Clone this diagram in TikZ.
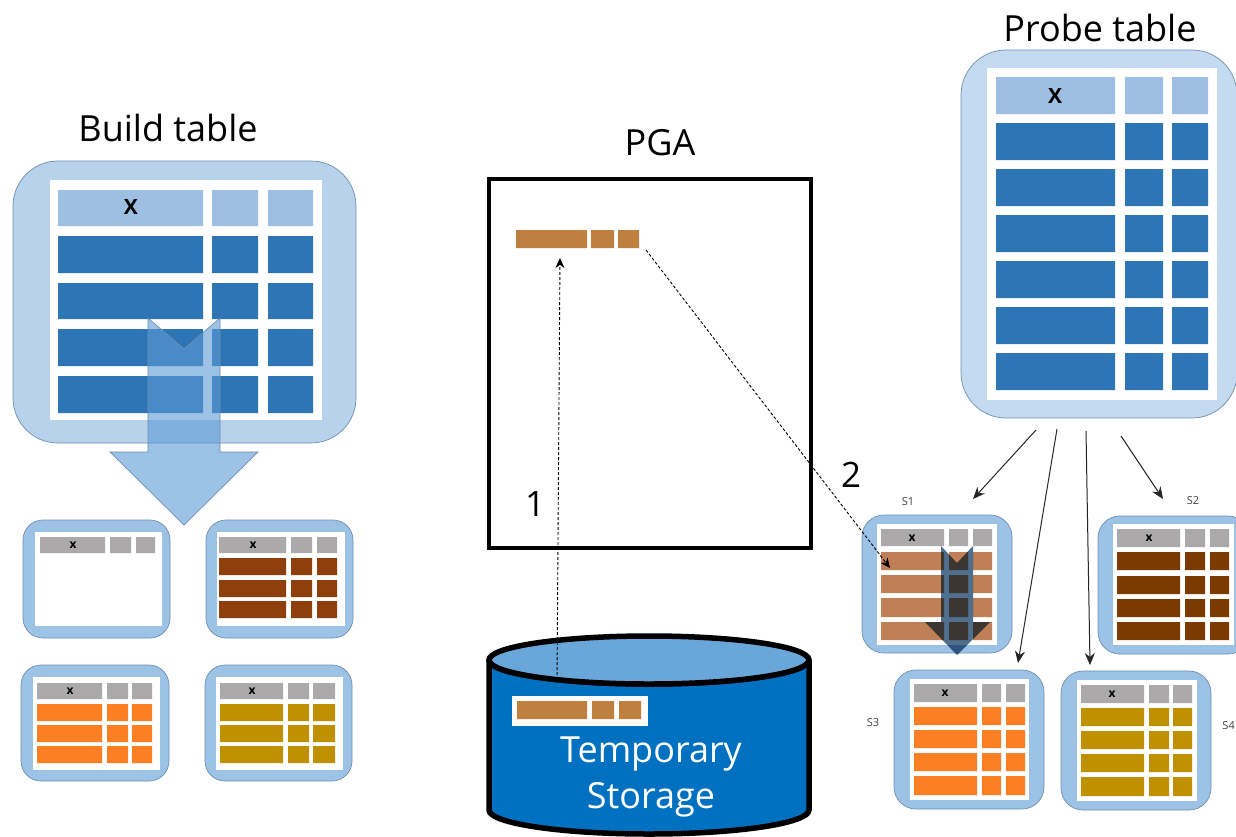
\documentclass[tikz,border=0pt]{standalone}
\usepackage{fontspec}
\setmainfont{Open Sans}
\usetikzlibrary{arrows.meta}
\definecolor{bluerow}{HTML}{2E75B6}
\definecolor{bluehead}{HTML}{9DC0E2}
\definecolor{greyhead}{HTML}{ABA9A9}
\definecolor{shellbig}{HTML}{B8D2EC}
\definecolor{shellprobe}{HTML}{C4DAF0}
\definecolor{shellsmall}{HTML}{9CC2E6}
\definecolor{shellline}{HTML}{6F8FAF}
\definecolor{arrowfill}{HTML}{5B9BD5}
\definecolor{darkarrow}{HTML}{4F6F8F}
\definecolor{sone}{HTML}{BF7F57}
\definecolor{stwo}{HTML}{7B3B00}
\definecolor{btwo}{HTML}{8F3F0C}
\definecolor{orangerow}{HTML}{FC7F24}
\definecolor{olive}{HTML}{BF9000}
\definecolor{tan}{HTML}{BF7F3F}
\definecolor{cyl}{HTML}{0070C0}
\definecolor{cyltop}{HTML}{69A6DA}
\newcommand\tblshell[7]{% name x1 y1 x2 y2 radius colour
  \node[shell,rounded corners=#6pt,fill=#7,minimum width={(#4-#2)*1pt},minimum height={(#5-#3)*1pt}] (#1) at ({(#2+#4)/2},{(#3+#5)/2}) {};}
\newcommand\whitepane[4]{\fill[white] (#1,#2) rectangle (#3,#4);}
\newcommand\cellrow[9]{% c1 c2 c3 c4 c5 c6 y1 y2 colour
  \fill[#9] (#1,#7) rectangle (#2,#8) (#3,#7) rectangle (#4,#8) (#5,#7) rectangle (#6,#8);}
\tikzset{
  shell/.style={draw=shellline,line width=.7pt,inner sep=0pt,outer sep=0pt,rectangle},
  title/.style={inner sep=0pt,font=\fontsize{36}{40}\selectfont},
  xbig/.style={inner sep=0pt,font=\fontsize{21}{22}\selectfont\bfseries},
  xsmall/.style={inner sep=0pt,font=\fontsize{12}{13}\selectfont\bfseries},
  tiny label/.style={inner sep=0pt,text=black!75,font=\fontsize{11}{12}\selectfont},
  num/.style={inner sep=0pt,font=\fontsize{35}{38}\selectfont},
  split/.style={-{Stealth[length=12pt,width=10pt]},line width=1pt,black!85},
  flow/.style={-{Stealth[length=10pt,width=9pt]},densely dashed,line width=.9pt,black},
}
\begin{document}
\begin{tikzpicture}[x=1pt,y=-1pt]
\clip (0,0) rectangle (1236,836);
\fill[white] (0,0) rectangle (1236,836);
% Build table
\node[title] (buildlabel) at (168,128) {Build table};
\tblshell{build}{13}{161}{356}{443}{45}{shellbig}
\whitepane{50}{180}{322}{420}
\cellrow{58}{203}{212}{258}{268}{313}{190}{226}{bluehead}
\foreach \a/\b in {236/273,283/319,329/366,376/413}{\cellrow{58}{203}{212}{258}{268}{313}{\a}{\b}{bluerow}}
\node[xbig] (buildx) at (131,207) {X};
\draw[fill=arrowfill,fill opacity=.6,draw=shellline,line width=.7pt]
  (148,318) -- (184,349) -- (220,318) -- (220,452) -- (258,452) -- (184,525) -- (110,452) -- (148,452) -- cycle;
% Small left tables
\tblshell{ba}{23}{520}{170}{638}{20}{shellsmall}
\whitepane{35}{532}{162}{626}
\cellrow{40}{105}{110}{131}{136}{155}{537}{553}{greyhead}
\node[xsmall] (bax) at (73,545) {x};
\tblshell{bb}{206}{520}{353}{638}{20}{shellsmall}
\whitepane{217}{532}{345}{626}
\cellrow{219}{286}{291}{312}{317}{337}{537}{553}{greyhead}
\node[xsmall] (bbx) at (253,545) {x};
\foreach \a/\b in {558/575,580/597,601/618}{\cellrow{219}{286}{291}{312}{317}{337}{\a}{\b}{btwo}}
\tblshell{bc}{21}{665}{169}{781}{20}{shellsmall}
\whitepane{33}{677}{160}{770}
\cellrow{37}{102}{107}{128}{132}{152}{683}{699}{greyhead}
\node[xsmall] (bcx) at (70,691) {x};
\foreach \a/\b in {704/721,725/742,746/763}{\cellrow{37}{102}{107}{128}{132}{152}{\a}{\b}{orangerow}}
\tblshell{bd}{205}{665}{352}{781}{20}{shellsmall}
\whitepane{216}{677}{343}{770}
\cellrow{220}{283}{288}{309}{313}{335}{683}{699}{greyhead}
\node[xsmall] (bdx) at (252,691) {x};
\foreach \a/\b in {704/721,725/742,746/763}{\cellrow{220}{283}{288}{309}{313}{335}{\a}{\b}{olive}}
% PGA
\node[title] (pgalabel) at (660,143) {PGA};
\node[draw=black,line width=3.2pt,rectangle,minimum width=322pt,minimum height=369pt,inner sep=0pt] (pga) at (650,363.5) {};
\cellrow{516}{587}{591}{614}{618}{639}{230}{248}{tan}
\coordinate (pgarowend) at (646,250);
\coordinate (pgarowin) at (560,258);
\node[num] (one) at (535,504) {1};
\node[num] (two) at (851,475) {2};
% Cylinder
\path[fill=cyl,draw=black,line width=5.5pt,line join=round] (489,660) -- (489,810) arc[start angle=180,end angle=360,x radius=160,y radius=-24] -- (809,660) arc[start angle=0,end angle=-180,x radius=160,y radius=-24] -- cycle;
\draw[fill=cyltop,line width=5.5pt] (649,660) ellipse[x radius=160,y radius=24];
\fill[white] (512,696) rectangle (648,726);
\cellrow{517}{587}{592}{614}{619}{641}{701}{719}{tan}
\coordinate (cylrow) at (557,680);
\node[inner sep=0pt,text=white,align=center,font=\fontsize{36}{46}\selectfont] (storage) at (651,777) {Temporary\\Storage};
% Probe table
\node[title] (probelabel) at (1100,28) {Probe table};
\tblshell{probe}{961}{50}{1237}{418}{45}{shellprobe}
\whitepane{987}{68}{1217}{400}
\cellrow{996}{1115}{1125}{1163}{1172}{1208}{77}{114}{bluehead}
\foreach \a/\b in {123/160,169/206,215/252,261/298,307/344,353/390}{\cellrow{996}{1115}{1125}{1163}{1172}{1208}{\a}{\b}{bluerow}}
\node[xbig] (probex) at (1055,96) {X};
% S tables
\tblshell{sa}{862}{515}{1012}{653}{22}{shellsmall}
\whitepane{877}{524}{997}{645}
\cellrow{881}{944}{949}{968}{973}{992}{529}{546}{greyhead}
\node[xsmall] (sax) at (912,538) {x};
\foreach \a/\b in {552/570,575/593,598/617,622/640}{\cellrow{881}{944}{949}{968}{973}{992}{\a}{\b}{sone}}
\tblshell{sb}{1098}{516}{1250}{654}{22}{shellsmall}
\whitepane{1113}{524}{1234}{645}
\cellrow{1117}{1180}{1185}{1205}{1210}{1229}{529}{547}{greyhead}
\node[xsmall] (sbx) at (1149,538) {x};
\foreach \a/\b in {552/570,576/594,599/617,622/640}{\cellrow{1117}{1180}{1185}{1205}{1210}{1229}{\a}{\b}{stwo}}
\tblshell{sc}{894}{670}{1044}{809}{22}{shellsmall}
\whitepane{910}{679}{1029}{800}
\cellrow{914}{977}{982}{1001}{1006}{1025}{684}{702}{greyhead}
\node[xsmall] (scx) at (945,693) {x};
\foreach \a/\b in {707/725,730/748,753/771,776/795}{\cellrow{914}{977}{982}{1001}{1006}{1025}{\a}{\b}{orangerow}}
\tblshell{sd}{1061}{671}{1211}{810}{22}{shellsmall}
\whitepane{1077}{680}{1197}{801}
\cellrow{1081}{1144}{1149}{1169}{1173}{1192}{685}{703}{greyhead}
\node[xsmall] (sdx) at (1112,694) {x};
\foreach \a/\b in {708/726,731/749,754/772,777/796}{\cellrow{1081}{1144}{1149}{1169}{1173}{1192}{\a}{\b}{olive}}
\node[tiny label] (sal) at (908,502) {S1};
\node[tiny label] (sbl) at (1193,501) {S2};
\node[tiny label] (scl) at (873,723) {S3};
\node[tiny label,anchor=east] (sdl) at (1235,726) {S4};
% S1 arrow
\begin{scope}[blend mode=multiply]
\fill[darkarrow]
  (941,546) -- (957,563) -- (973,546) -- (973,622) -- (990,622) -- (957,655) -- (925,622) -- (941,622) -- cycle;
\end{scope}
% connectors
\coordinate (pa) at (1036,430);
\coordinate (pb) at (1057,429);
\coordinate (pc) at (1086,431);
\coordinate (pd) at (1121,436);
\coordinate (ea) at (973,499);
\coordinate (eb) at (1018,663);
\coordinate (ec) at (1090,665);
\coordinate (ed) at (1163,499);
\coordinate (sain) at (890,568);
\draw[split] (pa) -- (ea);
\draw[split] (pb) -- (eb);
\draw[split] (pc) -- (ec);
\draw[split] (pd) -- (ed);
\draw[flow] (cylrow) -- (pgarowin);
\draw[flow] (pgarowend) -- (sain);
\end{tikzpicture}
\end{document}
